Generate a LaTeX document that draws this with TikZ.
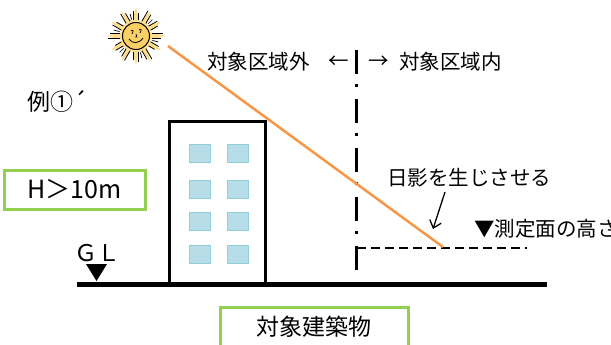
\documentclass[tikz,border=0pt]{standalone}
\usepackage{fontspec}
\setmainfont{Noto Sans CJK JP}
\usetikzlibrary{arrows.meta,shapes.geometric}
\definecolor{sunline}{HTML}{F79646}
\definecolor{boxgreen}{HTML}{92D050}
\definecolor{winfill}{HTML}{B7DDE8}
\definecolor{winedge}{HTML}{92CDDC}
\definecolor{sunface}{HTML}{FAD064}
\definecolor{sunray}{HTML}{FDDC8C}
\begin{document}
\begin{tikzpicture}[x=1pt,y=-1pt,
  lbl/.style={inner sep=0pt, font=\fontsize{20.5}{24}\selectfont},
  greenbox/.style={draw=boxgreen, line width=3pt, fill=white},
  win/.style={draw=winedge, fill=winfill, line width=1pt, minimum width=21pt, minimum height=18pt, inner sep=0pt},
]
\useasboundingbox (0,0) rectangle (611,345);
% ---------- sun ----------
\coordinate (sunc) at (136,36);
\node[star, star points=12, star point ratio=2.0, minimum size=58pt, fill=sunray, inner sep=0pt] (sunstar) at (sunc) {};
\foreach \a/\l in {0/28,30/26,60/29,90/27,120/28,150/26,180/29,210/27,240/28,270/26,300/29,330/27}{
  \draw[line width=0.8pt] (sunc) ++(\a-8:16) -- ++(\a:\l-17);
  \draw[line width=0.8pt] (sunc) ++(\a+8:16) -- ++(\a:\l-19);
}
\foreach \a in {15,75,135,195,255,315}{
  \draw[line width=0.7pt] (sunc) ++(\a:17) -- ++(\a:6);
}
\node[circle, draw, line width=1pt, fill=sunface, minimum size=27pt, inner sep=0pt] (sun) at (sunc) {};
\draw[line width=0.7pt] (131,31) .. controls (133,29) and (134,31) .. (132,34);
\draw[line width=0.7pt] (139,30) .. controls (141,28) and (142,30) .. (140,33);
\draw[line width=0.7pt] (136,34) -- (137,37) -- (135,37);
\draw[line width=0.8pt] (129,39) .. controls (132,44) and (139,44) .. (143,38);
% ---------- sun ray line ----------
\coordinate (rayS) at (168,46);
\coordinate (rayE) at (443,247);
% ---------- boundary line ----------
\coordinate (vtop) at (356.5,50);
\coordinate (vbot) at (356.5,272);
\draw[line width=3pt, dash pattern=on 24pt off 10pt on 3pt off 12pt] (vtop) -- (vbot);
% measuring plane
\coordinate (m1) at (357,248);
\coordinate (m2) at (527,248);
\draw[line width=1.4pt, dash pattern=on 9pt off 5pt] (m1) -- (m2);
\draw[sunline, line width=2.5pt] (rayS) -- (rayE);
% ---------- labels ----------
\node[lbl, anchor=west] (outside) at (207,62) {対象区域外};
\node[lbl] (larr) at (339,62) {←};
\node[lbl] (rarr) at (379,62) {→};
\node[lbl, anchor=west] (inside) at (399,62) {対象区域内};
\node[lbl, anchor=west, font=\fontsize{23}{26}\selectfont] (rei) at (27,101) {例①´};
\node[lbl, anchor=west] (shadow) at (387,178) {日影を生じさせる};
\node[lbl, anchor=west] (meas) at (474,229) {▼測定面の高さ};
\coordinate (arrS) at (445,192);
\coordinate (arrE) at (433,229);
\draw[line width=1.3pt, -{Straight Barb[length=7pt,width=12pt]}] (arrS) -- (arrE);
% ---------- ground ----------
\coordinate (g1) at (77,284.5);
\coordinate (g2) at (547,284.5);
\node[inner sep=0pt, font=\fontsize{23}{26}\selectfont] (gl) at (97,253) {ＧＬ};
\fill (86,264) -- (107,264) -- (96.5,281) -- cycle;
% ---------- building ----------
\node[draw, line width=3pt, fill=white, minimum width=96pt, minimum height=162pt, inner sep=0pt] (bldg) at (217,202) {};
\draw[line width=4.5pt] (g1) -- (g2);
\foreach \r/\y in {1/153,2/189.5,3/221,4/254.5}{
  \node[win] (wl\r) at (199.5,\y) {};
  \node[win] (wr\r) at (238,\y) {};
}
% ---------- H box ----------
\node[greenbox, minimum width=141pt, minimum height=39pt, inner sep=0pt] (hbox) at (74.5,189.5) {};
\node[inner sep=0pt, font=\fontsize{25}{28}\selectfont] (htext) at (74.5,189.5) {H＞10m};
% ---------- target box ----------
\node[greenbox, minimum width=188pt, minimum height=56pt, inner sep=0pt, anchor=north west] (tbox) at (219,306) {};
\node[inner sep=0pt, font=\fontsize{23}{26}\selectfont] (ttext) at (314,327) {対象建築物};
\end{tikzpicture}
\end{document}
